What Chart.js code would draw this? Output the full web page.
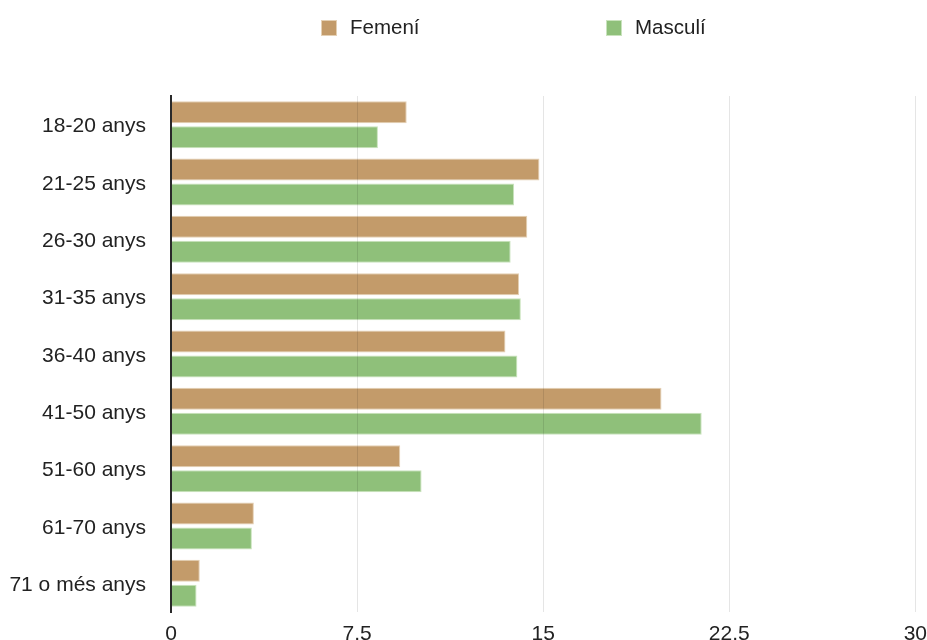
<!DOCTYPE html>
<html>
<head>
<meta charset="utf-8">
<script src="https://cdn.jsdelivr.net/npm/chart.js@4/dist/chart.umd.min.js"></script>
<style>
html,body{margin:0;padding:0;background:#fff;}
#wrap{width:927px;height:640px;position:relative;}
</style>
</head>
<body>
<div id="wrap"><canvas id="c" width="927" height="640"></canvas></div>
<script>
const categories = ["18-20 anys","21-25 anys","26-30 anys","31-35 anys","36-40 anys","41-50 anys","51-60 anys","61-70 anys","71 o més anys"];
const femeni = [9.50, 14.85, 14.36, 14.03, 13.48, 19.77, 9.24, 3.34, 1.16];
const masculi = [8.34, 13.83, 13.69, 14.10, 13.96, 21.39, 10.10, 3.26, 1.03];
const seriesNames = ["Femení", "Masculí"];
const xTicks = [0, 7.5, 15, 22.5, 30];

const FONT = "'Liberation Sans', Arial, Helvetica, sans-serif";
const fillColors = ["#c39b6a", "#8fc07a"];
const edgeColors = ["#e4d0b4", "#c9e3bd"];

const customLegend = {
  id: 'customLegend',
  afterDraw(chart) {
    const ctx = chart.ctx;
    const items = [{x: 321, tx: 350}, {x: 606, tx: 635}];
    ctx.save();
    chart.data.datasets.forEach((ds, i) => {
      const it = items[i];
      ctx.fillStyle = ds.backgroundColor;
      ctx.fillRect(it.x, 20, 16, 16);
      ctx.strokeStyle = ds.borderColor;
      ctx.lineWidth = 1;
      ctx.strokeRect(it.x + 0.5, 20.5, 15, 15);
      ctx.fillStyle = '#222';
      ctx.font = '20.5px ' + FONT;
      ctx.textBaseline = 'middle';
      ctx.textAlign = 'left';
      ctx.fillText(ds.label, it.tx, 28);
    });
    ctx.restore();
  }
};

new Chart(document.getElementById('c'), {
  type: 'bar',
  data: {
    labels: categories,
    datasets: [
      {label: seriesNames[0], data: femeni, backgroundColor: fillColors[0], borderColor: edgeColors[0], borderWidth: 1,
       categoryPercentage: 0.872, barPercentage: 0.88},
      {label: seriesNames[1], data: masculi, backgroundColor: fillColors[1], borderColor: edgeColors[1], borderWidth: 1,
       categoryPercentage: 0.872, barPercentage: 0.88}
    ]
  },
  options: {
    indexAxis: 'y',
    responsive: false,
    animation: false,
    devicePixelRatio: 1,
    layout: {padding: {top: 96, left: 0, right: 0, bottom: 0}},
    plugins: {
      legend: {display: false},
      tooltip: {enabled: false}
    },
    scales: {
      x: {
        min: 0, max: 30,
        afterBuildTicks(scale) { scale.ticks = xTicks.map(v => ({value: v})); },
        afterFit(scale) { scale.height = 28; },
        grid: {color: 'rgba(0,0,0,0.1)', drawTicks: true, tickLength: 10, tickColor: 'rgba(0,0,0,0)', z: 1, lineWidth: 1},
        border: {display: false},
        ticks: {padding: 0, color: '#222', font: {family: FONT, size: 21}, maxRotation: 0,
                callback: (v) => String(v)}
      },
      y: {
        afterFit(scale) { scale.width = 171; },
        grid: {display: true, drawOnChartArea: false, drawTicks: true, tickLength: 22, tickColor: 'rgba(0,0,0,0)', color: 'rgba(0,0,0,0)'},
        border: {display: true, color: '#2a2a2a', width: 2, z: 2},
        z: 2,
        ticks: {padding: 3, labelOffset: 2, color: '#222', font: {family: FONT, size: 21}}
      }
    }
  },
  plugins: [customLegend]
});
</script>
</body>
</html>
